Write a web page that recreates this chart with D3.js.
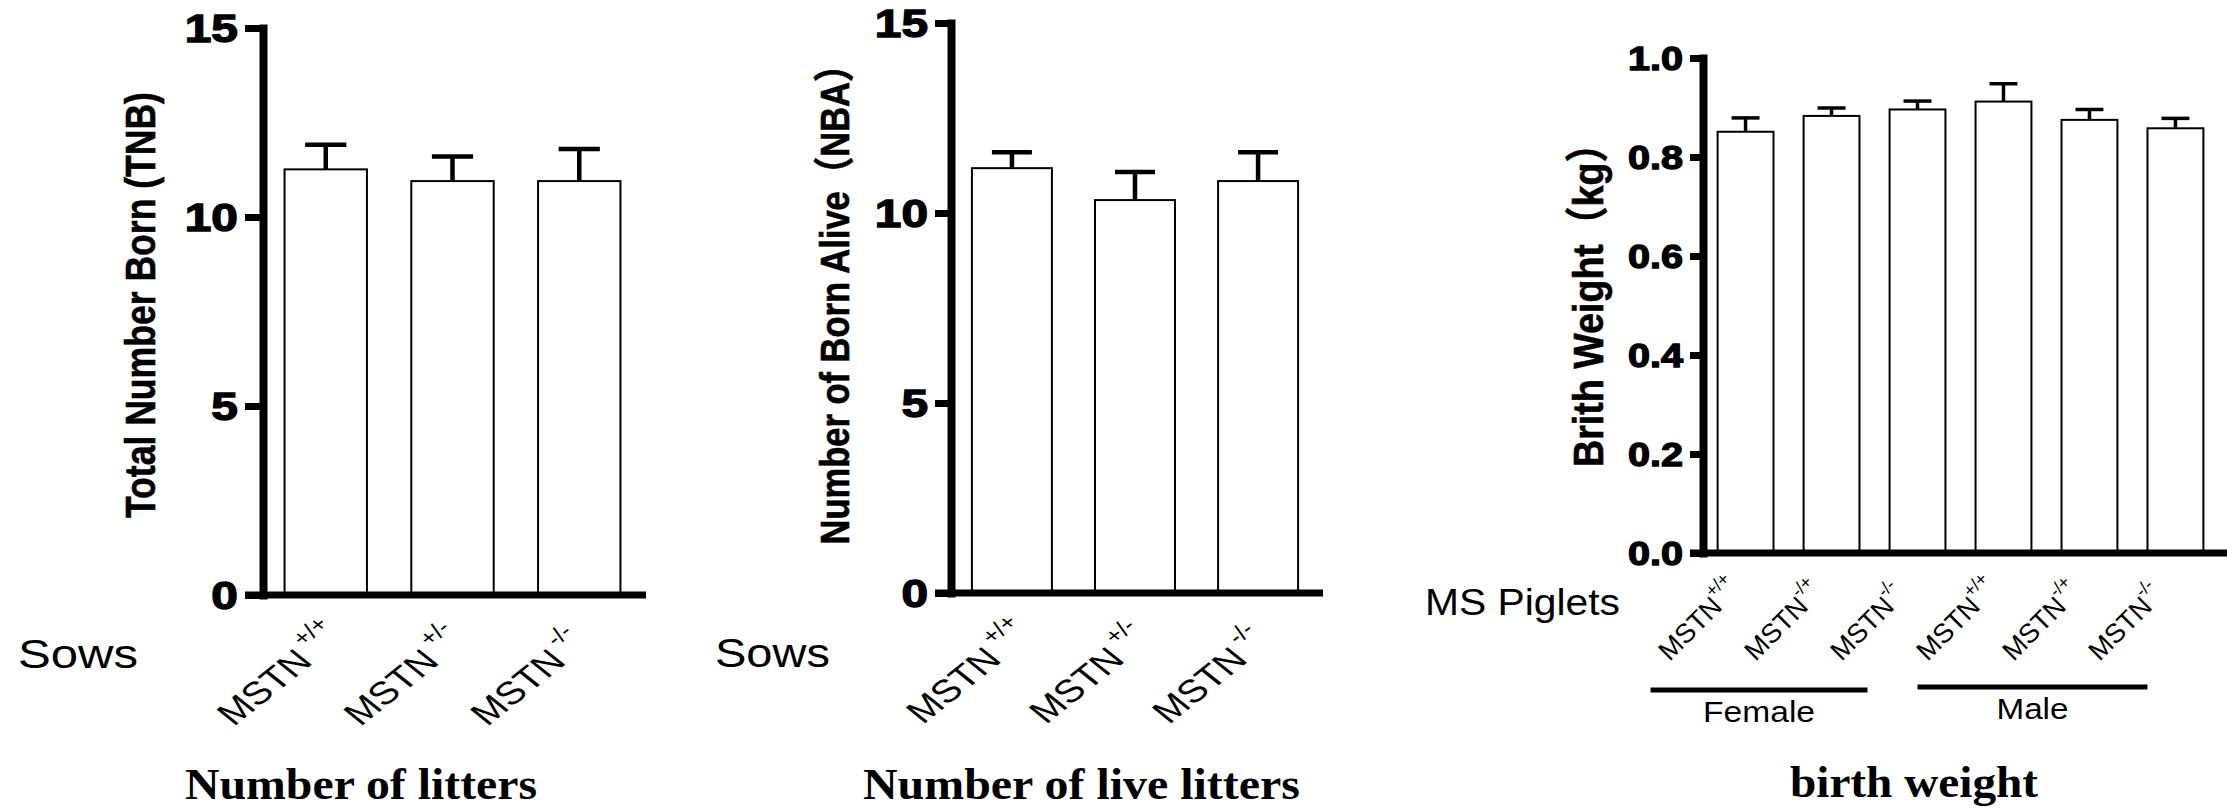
<!DOCTYPE html>
<html><head><meta charset="utf-8">
<script src="https://cdn.jsdelivr.net/npm/d3@7"></script>
<style>html,body{margin:0;padding:0;background:#fff;} svg{display:block;background:#fff;}</style>
</head><body><svg id="chart" width="2227" height="810"></svg>
<script>
// ---------------- data ----------------
const sowGenotypes = ["+/+", "+/-", "-/-"];
const tnbMean = [11.26, 10.95, 10.95];
const tnbSEM = [0.65, 0.65, 0.85];
const nbaMean = [11.18, 10.34, 10.84];
const nbaSEM = [0.42, 0.74, 0.76];
const pigletGenotypes = ["+/+", "-/+", "-/-", "+/+", "-/+", "-/-"];
const pigletSex = ["Female", "Female", "Female", "Male", "Male", "Male"];
const bwMean = [0.851, 0.883, 0.896, 0.912, 0.875, 0.858];
const bwSEM = [0.028, 0.016, 0.017, 0.036, 0.021, 0.020];
const countTicks = [0, 5, 10, 15];
const weightTicks = [0, 0.2, 0.4, 0.6, 0.8, 1.0];
const sexGroups = ["Female", "Male"];

// ---------------- drawing ----------------
const SANS = "'Liberation Sans', Arial, Helvetica, 'Noto Sans CJK SC', sans-serif";
const SERIF = "'Liberation Serif', 'Times New Roman', serif";
const svg = d3.select("#chart");
const fitted = [];

// text whose advance length is scaled to a target length (horizontal or rotated)
function fittedText(parent, x, y, txt, o) {
  const t = parent.append("text")
    .attr("font-family", o.family || SANS)
    .attr("font-size", o.size)
    .attr("font-weight", o.weight || "normal")
    .attr("text-anchor", o.anchor || "start")
    .attr("fill", "#000")
    .text(txt);
  if (o.stroke) t.attr("stroke", "#000").attr("stroke-width", o.stroke);
  const item = { t, x, y, o };
  fitted.push(item);
  applyFit(item);
  return t;
}
function applyFit(item) {
  const { t, x, y, o } = item;
  const nat = t.node().getComputedTextLength() || 1;
  const s = o.len ? o.len / nat : 1;
  if (o.rot) t.attr("transform", `translate(${x},${y}) scale(${o.k || 1},${s}) rotate(${o.rot})`);
  else t.attr("transform", `translate(${x},${y}) scale(${s},1)`);
}

function drawPanel(o) {
  const g = svg.append("g");
  const n = o.means.length;
  const x = d3.scaleBand().domain(d3.range(n)).range([o.axisX, o.bandEnd])
    .paddingInner(0.35).paddingOuter(0.17).align(0.5);
  const y = d3.scaleLinear().domain(o.domain).range([o.y0, o.yTop]);
  const bw = x.bandwidth();

  // bars
  g.selectAll("rect.bar").data(o.means).join("rect").attr("class", "bar")
    .attr("x", (d, i) => x(i)).attr("y", d => y(d))
    .attr("width", bw).attr("height", d => y(o.domain[0]) - y(d))
    .attr("fill", "#fff").attr("stroke", "#000").attr("stroke-width", 2);

  // error bars (mean + SEM)
  const err = g.selectAll("g.err").data(o.means).join("g").attr("class", "err");
  err.append("line")
    .attr("x1", (d, i) => x(i) + bw / 2).attr("x2", (d, i) => x(i) + bw / 2)
    .attr("y1", d => y(d)).attr("y2", (d, i) => y(d + o.sem[i]))
    .attr("stroke", "#000").attr("stroke-width", o.errW);
  err.append("line")
    .attr("x1", (d, i) => x(i) + bw / 4).attr("x2", (d, i) => x(i) + 3 * bw / 4)
    .attr("y1", (d, i) => y(d + o.sem[i])).attr("y2", (d, i) => y(d + o.sem[i]))
    .attr("stroke", "#000").attr("stroke-width", o.errW);

  // x axis line
  g.append("line")
    .attr("x1", o.axisX - o.tickLen).attr("x2", o.lineEnd)
    .attr("y1", y(o.domain[0])).attr("y2", y(o.domain[0]))
    .attr("stroke", "#000").attr("stroke-width", 7);

  // y axis
  const ax = g.append("g").attr("transform", `translate(${o.axisX},0)`)
    .call(d3.axisLeft(y).tickValues(o.ticks).tickSize(o.tickLen).tickSizeOuter(0).tickFormat(o.fmt));
  ax.select(".domain").attr("stroke", "#000").attr("stroke-width", 8).attr("stroke-linecap", "square");
  ax.selectAll(".tick line").attr("stroke", "#000").attr("stroke-width", 7);
  ax.selectAll(".tick text")
    .attr("x", -(o.tickLen + 7) / o.kTick)
    .attr("transform", `scale(${o.kTick},1)`)
    .attr("dy", "0.36em")
    .attr("fill", "#000").attr("stroke", "#000").attr("stroke-width", 1.3)
    .attr("font-family", SANS).attr("font-weight", "bold").attr("font-size", o.tickFont);

  // y title
  fittedText(g, o.titleX, o.titleY, o.yTitle,
    { k: 1.24, rot: -90, size: o.titleFont, weight: "bold", anchor: "middle", len: o.titleLen, stroke: 0.5 });

  // x category labels
  g.selectAll("text.xl").data(o.genotypes).join("text").attr("class", "xl")
    .attr("transform", (d, i) => `translate(${x(i) + bw / 2 + o.lblDx},${o.lblY}) scale(${o.kLbl},1) rotate(-45)`)
    .attr("font-family", SANS).attr("font-size", o.lblFont).attr("fill", "#000")
    .each(function (d) {
      const t = d3.select(this);
      t.append("tspan").text("MSTN");
      t.append("tspan").attr("dx", o.supDx).attr("dy", -o.lblFont * 0.55)
        .attr("font-size", o.lblFont * 0.66).text(d);
    });
  return { x, y, bw, g };
}

// Panel 1: Total Number Born
drawPanel({
  means: tnbMean, sem: tnbSEM, genotypes: sowGenotypes, domain: [0, 15], ticks: countTicks, fmt: d3.format("d"),
  axisX: 263, bandEnd: 642, lineEnd: 646, y0: 595, yTop: 28, tickLen: 18, tickFont: 38, kTick: 1.26, errW: 4.5,
  yTitle: "Total Number Born (TNB)", titleX: 155, titleY: 305, titleFont: 35, titleLen: 426,
  lblDx: -92, lblY: 727, lblFont: 32, kLbl: 1.25, supDx: 5
});
fittedText(svg, 18, 668, "Sows", { size: 40, len: 120 });
fittedText(svg, 185, 799, "Number of litters", { family: SERIF, size: 44, weight: "bold", len: 352 });

// Panel 2: Number Born Alive
drawPanel({
  means: nbaMean, sem: nbaSEM, genotypes: sowGenotypes, domain: [0, 15], ticks: countTicks, fmt: d3.format("d"),
  axisX: 951, bandEnd: 1319, lineEnd: 1323, y0: 593, yTop: 23, tickLen: 16, tickFont: 38, kTick: 1.26, errW: 4.5,
  yTitle: "Number of Born Alive（NBA）", titleX: 849, titleY: 296, titleFont: 33, titleLen: 497,
  lblDx: -89, lblY: 725, lblFont: 32, kLbl: 1.25, supDx: 5
});
fittedText(svg, 715, 667, "Sows", { size: 40, len: 115 });
fittedText(svg, 863, 799, "Number of live litters", { family: SERIF, size: 44, weight: "bold", len: 437 });

// Panel 3: Birth weight
const p3 = drawPanel({
  means: bwMean, sem: bwSEM, genotypes: pigletGenotypes, domain: [0, 1], ticks: weightTicks, fmt: d3.format(".1f"),
  axisX: 1703, bandEnd: 2218, lineEnd: 2227, y0: 553, yTop: 58, tickLen: 13, tickFont: 33, kTick: 1.2, errW: 3.5,
  yTitle: "Brith Weight（kg）", titleX: 1603, titleY: 296, titleFont: 35, titleLen: 342,
  lblDx: -76, lblY: 662, lblFont: 27, kLbl: 1.0, supDx: -1
});
fittedText(svg, 1425, 615, "MS Piglets", { size: 37, len: 195 });

// sex group lines + labels
const groupOffsets = { Female: [-95, -50, 690], Male: [-86, -28, 687] };
sexGroups.forEach(sex => {
  const idx = d3.range(pigletSex.length).filter(i => pigletSex[i] === sex);
  const c0 = p3.x(idx[0]) + p3.bw / 2, c1 = p3.x(idx[idx.length - 1]) + p3.bw / 2;
  const [a, b, yy] = groupOffsets[sex];
  svg.append("line").attr("x1", c0 + a).attr("x2", c1 + b).attr("y1", yy).attr("y2", yy)
    .attr("stroke", "#000").attr("stroke-width", 5);
  fittedText(svg, (c0 + a + c1 + b) / 2, yy + 32, sex, { size: 30, anchor: "middle", len: sex === "Female" ? 112 : 72 });
});
fittedText(svg, 1790, 797, "birth weight", { family: SERIF, size: 44, weight: "bold", len: 248 });

if (document.fonts && document.fonts.ready) document.fonts.ready.then(() => fitted.forEach(applyFit));
</script>
</body></html>
